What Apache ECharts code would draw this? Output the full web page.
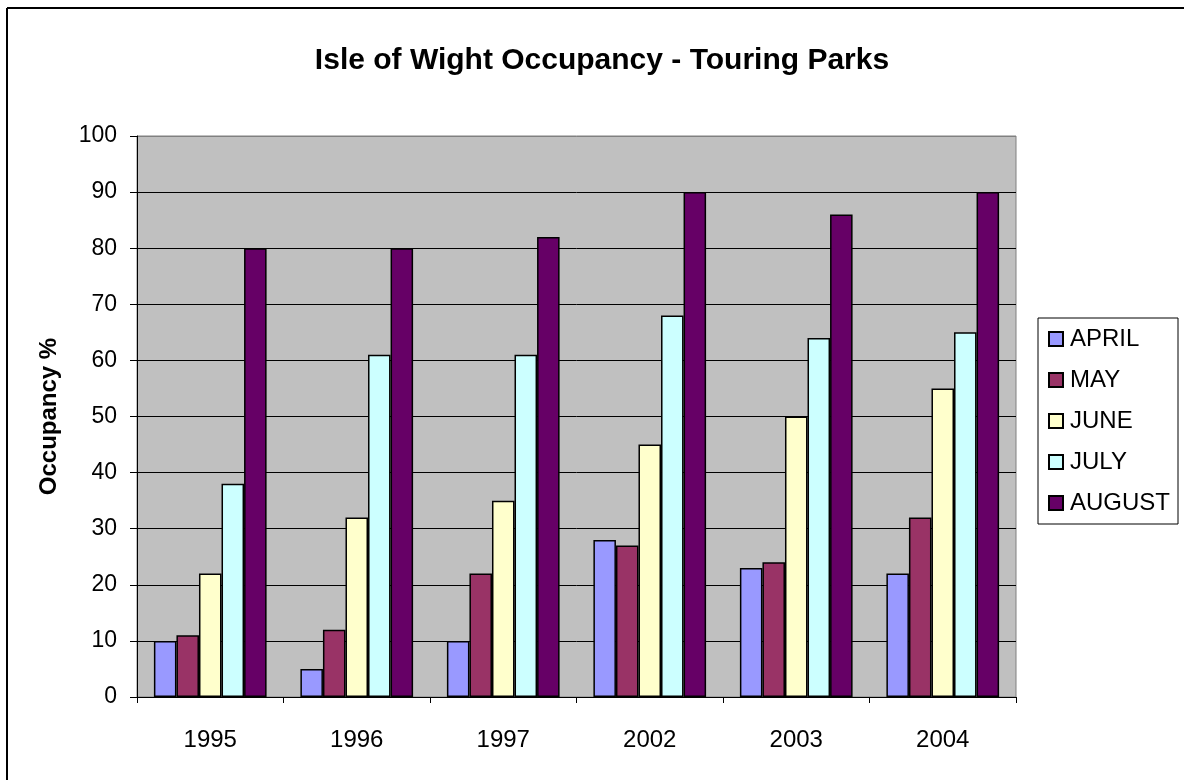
<!DOCTYPE html>
<html>
<head>
<meta charset="utf-8">
<title>Isle of Wight Occupancy - Touring Parks</title>
<script src="https://cdn.jsdelivr.net/npm/echarts@6/dist/echarts.min.js"></script>
<style>
  html, body { margin: 0; padding: 0; background: #fff; }
  #chart { width: 1184px; height: 780px; }
</style>
</head>
<body>
<div id="chart"></div>
<script>
// years on the x axis
const years = ['1995', '1996', '1997', '2002', '2003', '2004']

// occupancy % per month
const april = [10, 5, 10, 28, 23, 22]
const may = [11, 12, 22, 27, 24, 32]
const june = [22, 32, 35, 45, 50, 55]
const july = [38, 61, 61, 68, 64, 65]
const august = [80, 80, 82, 90, 86, 90]

const months = ['APRIL', 'MAY', 'JUNE', 'JULY', 'AUGUST']
const monthColors = ['#9999ff', '#993366', '#ffffcc', '#ccffff', '#660066']

const font = 'Arial, "Liberation Sans", sans-serif'

const chart = echarts.init(document.getElementById('chart'))

function barSeries(name, data, i) {
  return {
    name: name,
    type: 'bar',
    data: data,
    barGap: '0%',
    barCategoryGap: '23.08%',
    itemStyle: { color: monthColors[i], borderColor: '#000', borderWidth: 1.5 }
  }
}

// gridline colours: black, except the one on the top edge of the plot
const gridColors = []
for (let i = 0; i < 10; i++) gridColors.push('#000')
gridColors.push('#808080')

chart.setOption({
  animation: false,
  title: {
    text: 'Isle of Wight Occupancy - Touring Parks',
    left: 597,
    textAlign: 'center',
    top: 41,
    textStyle: { fontFamily: font, fontSize: 30, fontWeight: 'bold', color: '#000' }
  },
  grid: {
    left: 137,
    right: 168,
    top: 136,
    bottom: 83,
    show: true,
    backgroundColor: '#c0c0c0',
    borderColor: '#808080',
    borderWidth: 1
  },
  legend: {
    orient: 'vertical',
    left: 1038,
    top: 318,
    width: 139,
    padding: [9, 8, 9, 10],
    itemGap: 17,
    itemWidth: 14,
    itemHeight: 14,
    icon: 'rect',
    borderColor: '#000',
    borderWidth: 1,
    data: months,
    textStyle: { fontFamily: font, fontSize: 24, color: '#000', lineHeight: 24, padding: [0, 0, 0, 2] }
  },
  xAxis: {
    type: 'category',
    data: years,
    axisLine: { lineStyle: { color: '#000', width: 1 } },
    axisTick: { show: true, length: 6, lineStyle: { color: '#000' } },
    axisLabel: { fontFamily: font, fontSize: 24, color: '#000', margin: 31 },
    splitLine: { show: false }
  },
  yAxis: {
    type: 'value',
    min: 0,
    max: 100,
    interval: 10,
    name: 'Occupancy %',
    nameLocation: 'middle',
    nameGap: 76,
    nameTextStyle: { fontFamily: font, fontSize: 24, fontWeight: 'bold', color: '#000' },
    axisLine: { show: true, lineStyle: { color: '#000', width: 1 } },
    axisTick: { show: true, length: 7, lineStyle: { color: '#000' } },
    axisLabel: { fontFamily: font, fontSize: 23, color: '#000', margin: 20 },
    splitLine: { show: true, lineStyle: { color: gridColors, width: 1 } }
  },
  series: [
    barSeries('APRIL', april, 0),
    barSeries('MAY', may, 1),
    barSeries('JUNE', june, 2),
    barSeries('JULY', july, 3),
    barSeries('AUGUST', august, 4)
  ],
  // outer frame (only top and left edges show in the picture)
  graphic: [
    { type: 'line', shape: { x1: 7, y1: 8, x2: 1184, y2: 8 }, style: { stroke: '#000', lineWidth: 2 } },
    { type: 'line', shape: { x1: 7, y1: 8, x2: 7, y2: 780 }, style: { stroke: '#000', lineWidth: 2 } }
  ]
})
</script>
</body>
</html>
